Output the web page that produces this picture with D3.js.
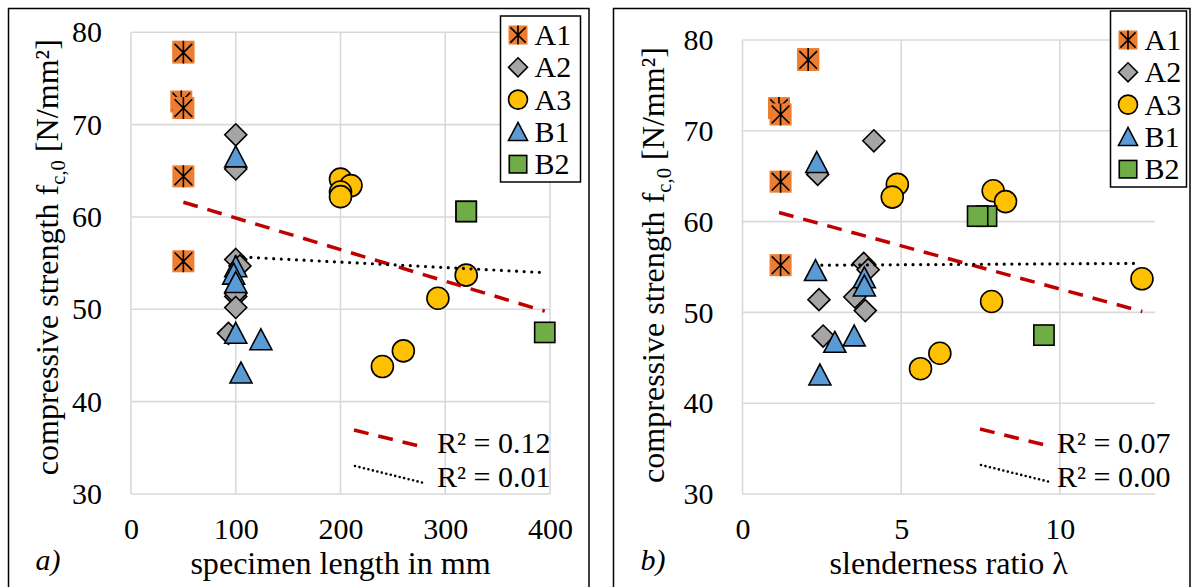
<!DOCTYPE html>
<html>
<head>
<meta charset="utf-8">
<script src="https://cdn.jsdelivr.net/npm/d3@7/dist/d3.min.js"></script>
<style>
  body { margin: 0; background: #fff; }
  text { fill: #000; }
</style>
</head>
<body>
<svg id="chart" width="1192" height="587"></svg>
<script>
// Data -------------------------------------------------------------
// per series: specimen length [mm], slenderness ratio, strength [N/mm2]
const seriesNames = ["A1", "A2", "A3", "B1", "B2"];

const lenA1 = [50, 50, 48, 50, 50, 50];
const lamA1 = [2.07, 2.07, 1.15, 1.2, 1.2, 1.2];
const fcA1  = [77.9, 77.8, 72.5, 71.8, 64.4, 55.2];

const lenA2 = [100, 100, 100, 104, 100, 100, 100, 93];
const lamA2 = [4.14, 2.37, 3.82, 3.96, 2.41, 3.54, 3.87, 2.54];
const fcA2  = [68.9, 65.2, 55.4, 54.7, 51.4, 51.7, 50.2, 47.4];

const lenA3 = [200, 210, 200, 200, 320, 293, 260, 240];
const lamA3 = [4.88, 7.9, 4.72, 8.29, 12.59, 7.85, 6.22, 5.61];
const fcA3  = [64.1, 63.4, 62.7, 62.2, 53.7, 51.2, 45.5, 43.8];

const lenB1 = [100, 100, 98, 100, 100, 124, 105];
const lamB1 = [2.34, 2.3, 3.84, 3.84, 3.52, 2.91, 2.44];
const fcB1  = [66.5, 54.6, 53.8, 52.9, 47.4, 46.7, 43.1];

const lenB2 = [320, 320, 395];
const lamB2 = [7.69, 7.41, 9.5];
const fcB2  = [60.6, 60.6, 47.5];

// trend lines (end points)
const trendLenAll = [50, 395],  trendLenAllFc = [61.6, 49.8];
const trendLenB   = [100, 390], trendLenBFc   = [55.7, 54.0];
const trendLamAll = [1.15, 12.6], trendLamAllFc = [61.0, 50.1];
const trendLamB   = [2.5, 12.5],  trendLamBFc   = [55.2, 55.4];

const r2Len = ["0.12", "0.01"];
const r2Lam = ["0.07", "0.00"];

const yTicks   = [30, 40, 50, 60, 70, 80];
const lenTicks = [0, 100, 200, 300, 400];
const lamTicks = [0, 5, 10];

// Font: pick an installed Times-like serif, scale sizes to its width --
function pickFont(cands) {
  const c = document.createElement("canvas").getContext("2d");
  const s = "mmmmmmmmmmlli1WQ0123456789abcxyz";
  for (const f of cands) {
    for (const base of ["monospace", "sans-serif"]) {
      c.font = `40px ${base}`;
      const w0 = c.measureText(s).width;
      c.font = `40px "${f}", ${base}`;
      if (c.measureText(s).width !== w0) return f;
    }
  }
  return null;
}
const serifName = pickFont(["Liberation Serif", "Tinos", "Times New Roman", "Times",
                            "Nimbus Roman", "FreeSerif", "Noto Serif", "DejaVu Serif"]);
const FAMILY = serifName ? `"${serifName}", serif` : "serif";
const k = (() => {
  const c = document.createElement("canvas").getContext("2d");
  c.font = `31px ${FAMILY}`;
  const w = c.measureText("specimen length in mm").width;
  return Math.max(0.75, Math.min(1.1, 300 / w));
})();
const fs = px => (px * k).toFixed(1) + "px";

// Styles -----------------------------------------------------------
const fillOf = { A1: "#ED7D31", A2: "#A5A5A5", A3: "#FFC000", B1: "#5B9BD5", B2: "#70AD47" };
const FONT = 29;

const svg = d3.select("#chart").attr("font-family", FAMILY);

// build point lists
const xs  = { A1: [lenA1, lamA1], A2: [lenA2, lamA2], A3: [lenA3, lamA3], B1: [lenB1, lamB1], B2: [lenB2, lamB2] };
const fcs = { A1: fcA1, A2: fcA2, A3: fcA3, B1: fcB1, B2: fcB2 };

// Marker drawing ----------------------------------------------------
function marker(g, name, s) {
  const h = s / 2;
  if (name === "A1") {
    g.append("rect").attr("x", -h).attr("y", -h).attr("width", s).attr("height", s)
      .attr("fill", fillOf.A1);
    g.append("path")
      .attr("d", `M0,${-h}V${h}M${-h * 0.8},${-h * 0.8}L${h * 0.8},${h * 0.8}M${h * 0.8},${-h * 0.8}L${-h * 0.8},${h * 0.8}`)
      .attr("stroke", "#000").attr("stroke-width", 1.6).attr("fill", "none");
  } else if (name === "A2") {
    g.append("path").attr("d", `M0,${-h}L${h},0L0,${h}L${-h},0Z`)
      .attr("fill", fillOf.A2).attr("stroke", "#000").attr("stroke-width", 1.6);
  } else if (name === "A3") {
    g.append("circle").attr("r", h)
      .attr("fill", fillOf.A3).attr("stroke", "#000").attr("stroke-width", 1.6);
  } else if (name === "B1") {
    g.append("path").attr("d", `M0,${-h}L${h},${h * 0.9}L${-h},${h * 0.9}Z`)
      .attr("fill", fillOf.B1).attr("stroke", "#000").attr("stroke-width", 1.6);
  } else {
    const q = h * 0.92;
    g.append("rect").attr("x", -q).attr("y", -q).attr("width", 2 * q).attr("height", 2 * q)
      .attr("fill", fillOf.B2).attr("stroke", "#000").attr("stroke-width", 1.6);
  }
}

// Panel -------------------------------------------------------------
function panel(cfg) {
  const x = d3.scaleLinear().domain(cfg.xDomain).range([cfg.left, cfg.right]);
  const y = d3.scaleLinear().domain([30, 80]).range([cfg.bottom, cfg.top]);

  // frame
  svg.append("rect")
    .attr("x", cfg.frame[0]).attr("y", cfg.frame[1])
    .attr("width", cfg.frame[2] - cfg.frame[0]).attr("height", 620)
    .attr("fill", "none").attr("stroke", "#000").attr("stroke-width", 1.5);

  // grid
  const grid = svg.append("g").attr("stroke", "#d9d9d9").attr("stroke-width", 1.6);
  yTicks.forEach(t => grid.append("line")
    .attr("x1", cfg.left).attr("x2", cfg.right).attr("y1", y(t)).attr("y2", y(t)));
  cfg.xTicks.forEach(t => grid.append("line")
    .attr("x1", x(t)).attr("x2", x(t)).attr("y1", cfg.top).attr("y2", cfg.bottom));

  // axes (labels only, like the source)
  const yAxis = svg.append("g")
    .attr("transform", `translate(${cfg.left - 17},0)`)
    .call(d3.axisLeft(y).tickValues(yTicks).tickSize(0).tickPadding(12));
  const xAxis = svg.append("g")
    .attr("transform", `translate(0,${cfg.bottom})`)
    .call(d3.axisBottom(x).tickValues(cfg.xTicks).tickSize(0).tickPadding(24));
  [yAxis, xAxis].forEach(a => {
    a.attr("font-family", null).attr("font-size", null);
    a.select(".domain").remove();
    a.selectAll("text").style("font-size", fs(FONT)).attr("fill", "#000");
  });

  // markers
  seriesNames.forEach(name => {
    const xv = xs[name][cfg.xi], fv = fcs[name];
    xv.forEach((v, i) => {
      const g = svg.append("g").attr("transform", `translate(${x(v)},${y(fv[i])})`);
      marker(g, name, 22);
    });
  });

  // trend lines
  const line = d3.line().x(d => x(d[0])).y(d => y(d[1]));
  svg.append("path")
    .attr("d", line(cfg.tAll[0].map((v, i) => [v, cfg.tAll[1][i]])))
    .attr("fill", "none").attr("stroke", "#C00000").attr("stroke-width", 3.5)
    .attr("stroke-dasharray", "15 10");
  svg.append("path")
    .attr("d", line(cfg.tB[0].map((v, i) => [v, cfg.tB[1][i]])))
    .attr("fill", "none").attr("stroke", "#000").attr("stroke-width", 3.2)
    .attr("stroke-linecap", "round").attr("stroke-dasharray", "0 7.6");

  // R² labels
  const r = cfg.r2pos;
  svg.append("line").attr("x1", r[0]).attr("y1", r[1]).attr("x2", r[0] + 65).attr("y2", r[1] + 16)
    .attr("stroke", "#C00000").attr("stroke-width", 3.5).attr("stroke-dasharray", "15 10");
  svg.append("line").attr("x1", r[0] + 1).attr("y1", r[1] + 36).attr("x2", r[0] + 70).attr("y2", r[1] + 53)
    .attr("stroke", "#000").attr("stroke-width", 2.6).attr("stroke-linecap", "round")
    .attr("stroke-dasharray", "0 4.6");
  cfg.r2.forEach((v, i) => svg.append("text")
    .attr("x", r[2]).attr("y", 453 + i * 34).style("font-size", fs(FONT))
    .text("R² = " + v));

  // legend
  const L = cfg.legend;
  svg.append("rect").attr("x", L[0]).attr("y", L[1]).attr("width", L[2]).attr("height", L[3])
    .attr("fill", "#fff").attr("stroke", "#000").attr("stroke-width", 1.5);
  seriesNames.forEach((name, i) => {
    const cy = L[4] + i * 32.3;
    const g = svg.append("g").attr("transform", `translate(${L[0] + 17.5},${cy})`);
    marker(g, name, 19);
    svg.append("text").attr("x", L[0] + 34).attr("y", cy + 10)
      .style("font-size", fs(FONT)).text(name);
  });

  // y title
  const yt = svg.append("text")
    .attr("transform", `translate(${cfg.yTitleX},${(cfg.top + cfg.bottom) / 2 + cfg.yTitleDy}) rotate(-90)`)
    .attr("text-anchor", "middle").style("font-size", fs(31));
  yt.append("tspan").text("compressive strength f");
  yt.append("tspan").attr("dy", 7).style("font-size", fs(20)).text("c,0");
  yt.append("tspan").attr("dy", -7).text(" [N/mm²]");

  // x title and panel tag
  svg.append("text").attr("x", (cfg.left + cfg.right) / 2).attr("y", 574)
    .attr("text-anchor", "middle").style("font-size", fs(31)).text(cfg.xTitle);
  svg.append("text").attr("x", cfg.frame[0] + 27).attr("y", 570)
    .style("font-size", fs(29)).style("font-style", "italic").text(cfg.tag);
}

panel({
  xDomain: [0, 400], xTicks: lenTicks, xi: 0,
  left: 131, right: 550, top: 32.3, bottom: 494,
  frame: [8.5, 8.5, 589],
  tAll: [trendLenAll, trendLenAllFc], tB: [trendLenB, trendLenBFc],
  r2: r2Len, r2pos: [354, 430, 437],
  legend: [500.5, 16, 80, 166, 35],
  yTitleX: 58, yTitleDy: -6,
  xTitle: "specimen length in mm", tag: "a)"
});

panel({
  xDomain: [0, 13], xTicks: lamTicks, xi: 1,
  left: 742.5, right: 1155, top: 40, bottom: 494,
  frame: [613.5, 8.5, 1190],
  tAll: [trendLamAll, trendLamAllFc], tB: [trendLamB, trendLamBFc],
  r2: r2Lam, r2pos: [980, 429, 1057],
  legend: [1110.5, 11, 76, 176, 40],
  yTitleX: 664, yTitleDy: -2,
  xTitle: "slenderness ratio λ", tag: "b)"
});
</script>
</body>
</html>
